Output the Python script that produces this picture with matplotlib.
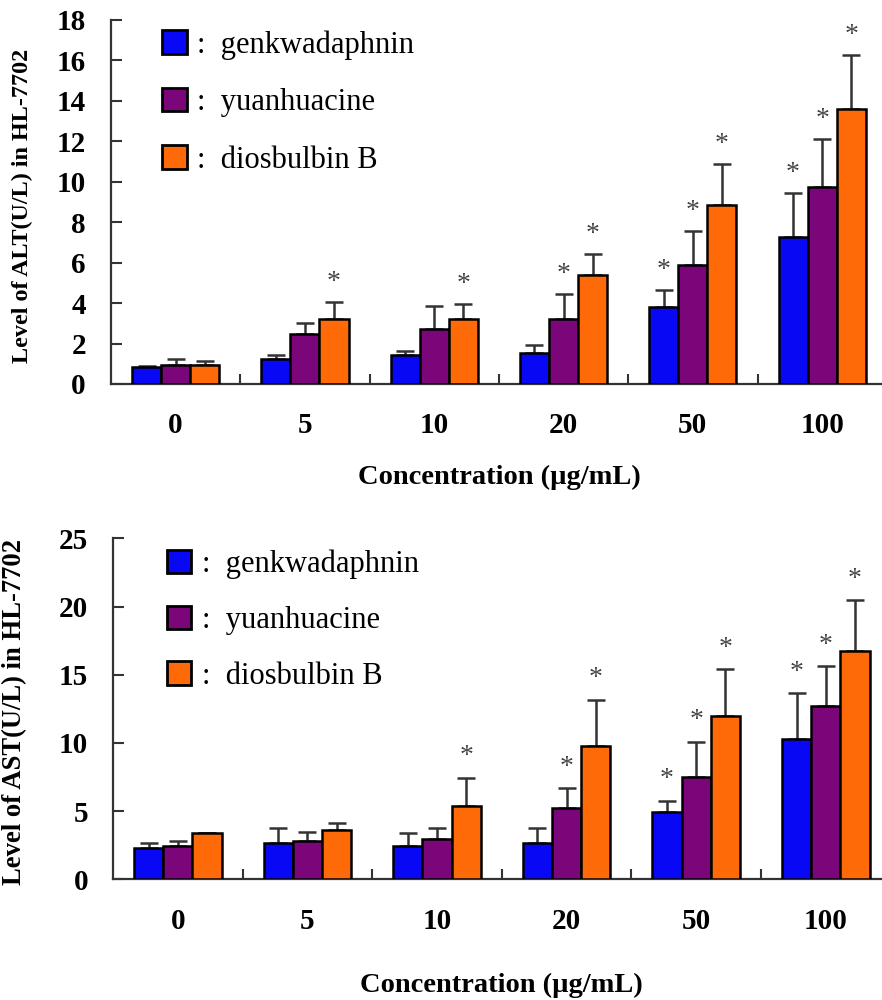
import matplotlib
matplotlib.use("Agg")
import matplotlib.pyplot as plt
from matplotlib.patches import Rectangle
import numpy as np

# ---------------- data ----------------
concentrations = ["0", "5", "10", "20", "50", "100"]
series_names = ["genkwadaphnin", "yuanhuacine", "diosbulbin B"]

alt_genk = [0.86, 1.24, 1.44, 1.52, 3.80, 7.26]
alt_yuan = [0.94, 2.46, 2.72, 3.23, 5.88, 9.72]
alt_dios = [0.94, 3.23, 3.23, 5.38, 8.83, 13.61]
alt_genk_err = [0.04, 0.20, 0.19, 0.41, 0.87, 2.18]
alt_yuan_err = [0.28, 0.57, 1.16, 1.23, 1.71, 2.39]
alt_dios_err = [0.20, 0.84, 0.73, 1.07, 2.07, 2.66]
alt_genk_sig = [0, 0, 0, 0, 1, 1]
alt_yuan_sig = [0, 0, 0, 1, 1, 1]
alt_dios_sig = [0, 1, 1, 1, 1, 1]

ast_genk = [2.32, 2.64, 2.46, 2.64, 4.91, 10.26]
ast_yuan = [2.46, 2.81, 2.93, 5.20, 7.48, 12.73]
ast_dios = [3.37, 3.61, 5.37, 9.77, 11.97, 16.74]
ast_genk_err = [0.32, 1.10, 0.91, 1.12, 0.85, 3.37]
ast_yuan_err = [0.33, 0.64, 0.86, 1.47, 2.61, 2.91]
ast_dios_err = [0.05, 0.54, 2.08, 3.40, 3.42, 3.74]
ast_genk_sig = [0, 0, 0, 0, 1, 1]
ast_yuan_sig = [0, 0, 0, 1, 1, 1]
ast_dios_sig = [0, 0, 1, 1, 1, 1]

alt_ticks = [0, 2, 4, 6, 8, 10, 12, 14, 16, 18]
ast_ticks = [0, 5, 10, 15, 20, 25]

# ---------------- style ----------------
colors = ["#0808f4", "#7a067a", "#ff6a08"]
serif = ["Liberation Serif", "DejaVu Serif"]
plt.rcParams["font.family"] = serif
axis_col = "#333333"

fig = plt.figure(figsize=(8.82, 10.0), dpi=100)


def draw_panel(ax, vals, errs, sigs, ticks, ylabel, ymax, fs_tick, fs_lab,
               fs_ylab, ylab_x, leg_anchor, leg_spacing, star_off, label_pad):
    x = np.arange(len(concentrations))
    w = 0.225
    for i, (v, e, s) in enumerate(zip(vals, errs, sigs)):
        xs = x + (i - 1) * w
        ax.bar(xs, v, width=w, color=colors[i], edgecolor="black",
               linewidth=1.8, zorder=3)
        ax.errorbar(xs, v, yerr=[np.zeros(len(v)), e], fmt="none",
                    ecolor=axis_col, elinewidth=1.8, capsize=6.5,
                    capthick=1.8, zorder=2)
        for xi, vi, ei, si in zip(xs, v, e, s):
            if si:
                ax.annotate("*", xy=(xi, vi + ei), xytext=(0, star_off),
                            textcoords="offset points", ha="center",
                            va="bottom", fontsize=20, color="#444444")
    ax.set_xlim(-0.5, 5.5)
    ax.set_ylim(0, ymax)
    ax.set_yticks(ticks)
    ax.set_yticklabels([str(t) for t in ticks], fontsize=fs_tick,
                       fontweight="bold")
    ax.set_xticks(np.arange(0.5, 5.0, 1.0))
    ax.set_xticklabels([])
    ax.set_xticks(x, minor=True)
    ax.set_xticklabels(concentrations, minor=True, fontsize=fs_tick,
                       fontweight="bold")
    ax.tick_params(axis="x", which="major", direction="in", length=7,
                   width=1.5, color=axis_col)
    ax.tick_params(axis="x", which="minor", length=0, pad=label_pad[0])
    ax.tick_params(axis="y", direction="in", length=8, width=1.5,
                   color=axis_col, pad=18)
    for side in ["top", "right"]:
        ax.spines[side].set_visible(False)
    for side in ["left", "bottom"]:
        ax.spines[side].set_color(axis_col)
        ax.spines[side].set_linewidth(1.6)
    ax.set_xlabel("Concentration (\u00b5g/mL)", fontsize=fs_lab,
                  fontweight="bold", labelpad=label_pad[1])
    ax.set_ylabel(ylabel, fontsize=fs_ylab, fontweight="bold")
    ax.yaxis.set_label_coords(ylab_x, 0.49)
    handles = [Rectangle((0, 0), 1, 1, facecolor=c, edgecolor="black",
                         linewidth=2) for c in colors]
    ax.legend(handles, [":  " + n for n in series_names], loc="upper left",
              bbox_to_anchor=leg_anchor, frameon=False, fontsize=22,
              handlelength=0.8, handleheight=0.8, handletextpad=0.35,
              labelspacing=leg_spacing, borderpad=0, borderaxespad=0)


ax1 = fig.add_axes([111 / 882, 1 - 384 / 1000, 6 * 129.3 / 882, 364 / 1000])
draw_panel(ax1, [alt_genk, alt_yuan, alt_dios],
           [alt_genk_err, alt_yuan_err, alt_dios_err],
           [alt_genk_sig, alt_yuan_sig, alt_dios_sig],
           alt_ticks, "Level of ALT(U/L) in HL-7702", 18,
           21, 20.5, 17.4, -0.10, (0.066, 0.972), 0.92, 5, (20, 19))

ax2 = fig.add_axes([113 / 882, 1 - 879.3 / 1000, 6 * 129.6 / 882, 341 / 1000])
draw_panel(ax2, [ast_genk, ast_yuan, ast_dios],
           [ast_genk_err, ast_yuan_err, ast_dios_err],
           [ast_genk_sig, ast_yuan_sig, ast_dios_sig],
           ast_ticks, "Level of AST(U/L) in HL-7702", 25,
           21, 20.5, 19.2, -0.111, (0.069, 0.966), 0.86, 6, (21, 27))

fig.savefig("out.png", dpi=100, facecolor="white")
